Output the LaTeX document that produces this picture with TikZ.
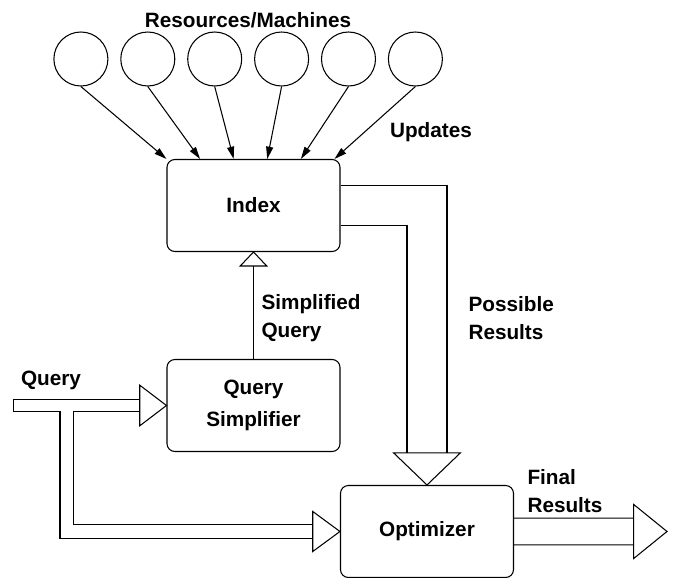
\documentclass[tikz,border=0pt]{standalone}
\usepackage{fontspec}
\setmainfont{Liberation Sans}
\usetikzlibrary{arrows.meta,calc,positioning}

\begin{document}
\begin{tikzpicture}[scale=0.2, line width=0.6pt]
\tikzstyle{every node}+=[inner sep=0pt, font=\bfseries\fontsize{11.8}{15.9}\selectfont]
\tikzstyle{machine}=[draw, circle, minimum size=1.08cm]
\tikzstyle{stage}=[draw, rectangle, rounded corners=4.5pt, minimum width=3.46cm, minimum height=1.84cm, align=center]
\tikzstyle{feed}=[-{Triangle[length=7pt,width=4pt]}]
\useasboundingbox (0,0) rectangle (67.3,-57.8);
% machines along the top
\foreach \i in {1,...,6}
  \node[machine] (res\i) at ({1.4+6.69*\i},-5.9) {};
\node (resources) at (24.8,-2.0) {Resources/Machines};
% the three stages
\node[stage] (index) at (25.35,-20.55) {Index};
\node[stage] (simp) at (25.35,-40.55) {Query\\[2.5pt]Simplifier};
\node[stage] (opt) at (42.7,-53.15) {Optimizer};
% updates from every machine into the index
\foreach \i in {1,...,6}
  \draw[feed] (res\i.south) -- ($(index.north west)+({3.36*(\i-1)},0)$);
\node (updates) at (43.1,-13.2) {Updates};
% simplified query up to the index
\draw (simp.north) -- ($(index.south)+(0,-1.4)$);
\draw ($(index.south)+(-1.33,-1.4)$) -- ($(index.south)+(1.33,-1.4)$) -- (index.south) -- cycle;
\node[anchor=west, align=left] (simplified) at (26.1,-31.8) {Simplified\\Query};
% possible results down to the optimizer
\draw ($(index.east)+(0,2)$) -| ($(opt.north)+(2,3.2)$);
\draw ($(index.east)+(0,-2)$) -| ($(opt.north)+(-2,3.2)$);
\draw ($(opt.north)+(-3.33,3.2)$) -- ($(opt.north)+(3.33,3.2)$) -- (opt.north) -- cycle;
\node[anchor=west, align=left] (possible) at (46.8,-31.8) {Possible\\Results};
% query in, split to simplifier and optimizer
\coordinate (qin) at (1.33,-40.55);
\node (query) at (5.1,-38.0) {Query};
\draw ($(simp.west)+(-2.67,0.64)$) -- ($(qin)+(0,0.64)$) -- ($(qin)+(0,-0.64)$) -- ($(qin)+(4.67,-0.64)$) |- ($(opt.west)+(-2.72,-0.67)$);
\draw ($(simp.west)+(-2.67,-0.64)$) -- ($(qin)+(6,-0.64)$) |- ($(opt.west)+(-2.72,0.67)$);
\draw ($(simp.west)+(-2.67,2.03)$) -- ($(simp.west)+(-2.67,-2.03)$) -- (simp.west) -- cycle;
\draw ($(opt.west)+(-2.72,2)$) -- ($(opt.west)+(-2.72,-2)$) -- (opt.west) -- cycle;
% final results out
\coordinate (out) at ($(opt.east)+(15.3,0)$);
\draw ($(opt.east)+(0,1.33)$) -- ($(out)+(-3.33,1.33)$);
\draw ($(opt.east)+(0,-1.33)$) -- ($(out)+(-3.33,-1.33)$);
\draw ($(out)+(-3.33,2.7)$) -- ($(out)+(-3.33,-2.7)$) -- (out) -- cycle;
\node[anchor=west, align=left] (final) at (52.7,-49.15) {Final\\Results};
\end{tikzpicture}
\end{document}
